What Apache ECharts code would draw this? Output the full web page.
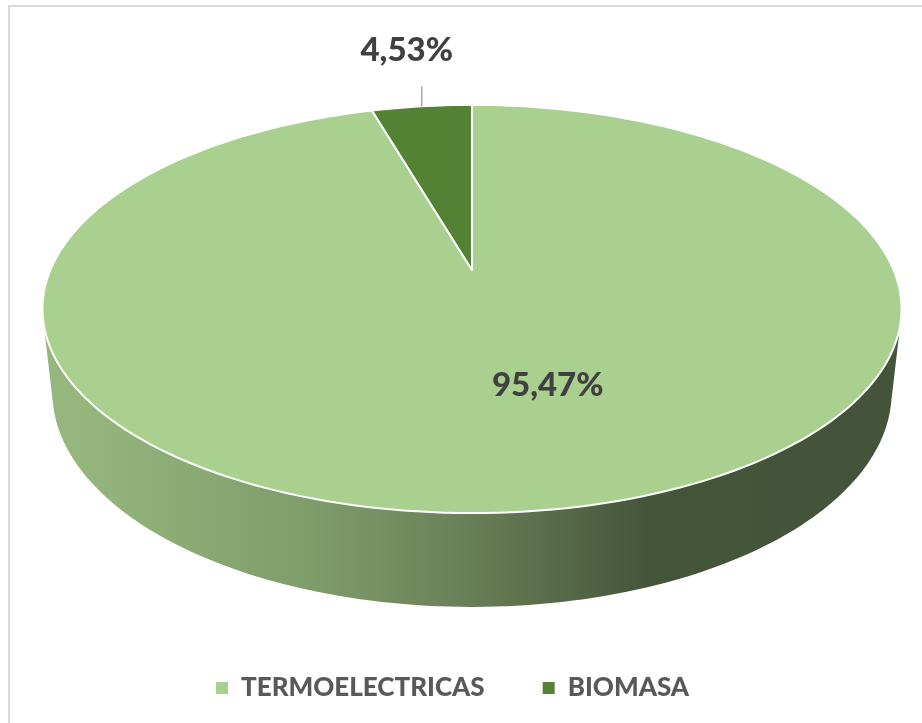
<!DOCTYPE html>
<html>
<head>
<meta charset="utf-8">
<title>Termoelectricas / Biomasa</title>
<script src="https://cdn.jsdelivr.net/npm/echarts@6/dist/echarts.min.js"></script>
<style>
  html, body { margin: 0; padding: 0; background: #fff; }
  #chart { width: 922px; height: 723px; }
</style>
</head>
<body>
<div id="chart"></div>
<script>
// datos
var categories = ['TERMOELECTRICAS', 'BIOMASA'];
var values = [95.47, 4.53];
var valueLabels = ['95,47%', '4,53%'];
var sliceColors = ['#A9D08E', '#548235'];

// vista 3D (radio de la tarta = 1)
var cx = 472, cy = 270;
var F = 1952, D = 4.63;
var tilt = 27.8 * Math.PI / 180;
var thick = 0.224;
var sinA = Math.sin(tilt), cosA = Math.cos(tilt);
var total = values.reduce(function (a, b) { return a + b; }, 0);

function project(x, y, z) {
  var depth = D + z * cosA - y * sinA;
  return [cx + F * x / depth, cy - F * (y * cosA + z * sinA) / depth];
}
function rim(t, y, r) {
  return project(r * Math.sin(t), y, r * Math.cos(t));
}
function shade(hex, f) {
  var n = parseInt(hex.slice(1), 16);
  var r = Math.round(((n >> 16) & 255) * f), g = Math.round(((n >> 8) & 255) * f), b = Math.round((n & 255) * f);
  return 'rgb(' + r + ',' + g + ',' + b + ')';
}

// parte visible del lateral
var sideLimit = Math.acos(-1 / (D * cosA));

function renderSlice(params, api) {
  var i = api.value(0);
  var before = 0;
  for (var k = 0; k < i; k++) before += values[k];
  var t0 = before / total * Math.PI * 2;
  var t1 = (before + values[i]) / total * Math.PI * 2;
  var color = sliceColors[i];
  var children = [];
  var steps = 120, s, t;

  // lateral
  var a = Math.max(t0, sideLimit - 0.02), b = Math.min(t1, Math.PI * 2 - sideLimit + 0.02);
  if (a < b) {
    var side = [];
    for (s = 0; s <= steps; s++) {
      t = a + (b - a) * s / steps;
      side.push(api.coord(rim(t, -thick, 1)));
    }
    for (s = steps; s >= 0; s--) {
      t = a + (b - a) * s / steps;
      side.push(api.coord(rim(t, 0, 1)));
    }
    var xl = api.coord(rim(Math.PI * 1.5 + 0.2, 0, 1))[0];
    var xr = api.coord(rim(Math.PI * 0.5 - 0.2, 0, 1))[0];
    var grad = new echarts.graphic.LinearGradient(xl, 0, xr, 0, [
      { offset: 0, color: shade(color, 0.88) },
      { offset: 0.3, color: shade(color, 0.75) },
      { offset: 0.5, color: shade(color, 0.61) },
      { offset: 0.62, color: shade(color, 0.5) },
      { offset: 0.72, color: shade(color, 0.41) },
      { offset: 1, color: shade(color, 0.4) }
    ], true);
    children.push({ type: 'polygon', shape: { points: side }, style: { fill: grad } });
  }

  // cara superior
  var topPts = [api.coord(project(0, 0, 0))];
  var n = Math.max(4, Math.round(steps * (t1 - t0) / Math.PI));
  for (s = 0; s <= n; s++) {
    t = t0 + (t1 - t0) * s / n;
    topPts.push(api.coord(rim(t, 0, 1)));
  }
  children.push({
    type: 'polygon', shape: { points: topPts },
    style: { fill: color, stroke: '#ffffff', lineWidth: 2, lineJoin: 'round' }
  });

  // etiqueta
  var mid = (t0 + t1) / 2;
  var font = '900 33px Lato';
  if (values[i] / total > 0.1) {
    var p = api.coord(rim(mid, 0, 0.55));
    children.push({
      type: 'text',
      style: { text: valueLabels[i], x: p[0] + 39, y: p[1] - 4, fill: '#404040', font: font, align: 'center', verticalAlign: 'middle' }
    });
  } else {
    var p0 = api.coord(rim(mid, 0, 1));
    children.push({
      type: 'line', shape: { x1: p0[0], y1: p0[1], x2: p0[0], y2: p0[1] - 20 },
      style: { stroke: '#a6a6a6', lineWidth: 1.5 }
    });
    children.push({
      type: 'text',
      style: { text: valueLabels[i], x: p0[0] - 15, y: p0[1] - 56, fill: '#404040', font: font, align: 'center', verticalAlign: 'middle' }
    });
  }
  return { type: 'group', children: children };
}

var chart = echarts.init(document.getElementById('chart'));
chart.setOption({
  animation: false,
  backgroundColor: '#ffffff',
  grid: { left: 0, right: 0, top: 0, bottom: 0 },
  xAxis: { type: 'value', min: 0, max: 922, show: false },
  yAxis: { type: 'value', min: 0, max: 723, inverse: true, show: false },
  legend: {
    data: categories,
    left: 211,
    top: 670,
    icon: 'rect',
    itemWidth: 12,
    itemHeight: 12,
    itemGap: 58,
    textStyle: { fontFamily: 'Lato', fontWeight: 900, fontSize: 26, color: '#595959', padding: [0, 0, 0, 8] }
  },
  graphic: [{
    type: 'rect',
    shape: { x: 9, y: 6, width: 1000, height: 1000 },
    style: { fill: 'none', stroke: '#d9d9d9', lineWidth: 2 },
    silent: true
  }],
  series: categories.map(function (name, i) {
    return {
      type: 'custom',
      name: name,
      coordinateSystem: 'cartesian2d',
      renderItem: renderSlice,
      itemStyle: { color: sliceColors[i] },
      data: [[i]],
      z: 2 + i
    };
  })
});
</script>
</body>
</html>
